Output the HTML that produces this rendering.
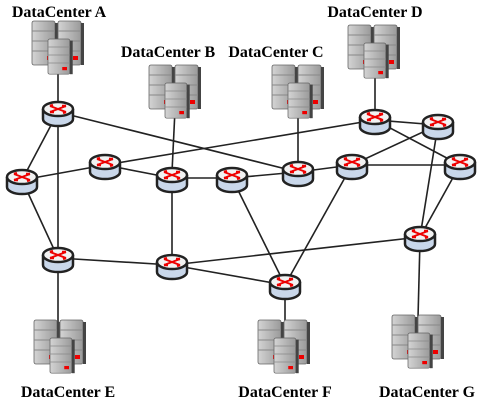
<!DOCTYPE html>
<html><head><style>
body{margin:0;background:#fff;}
svg{display:block;}
text{font-family:"Liberation Serif",serif;font-weight:bold;font-size:16px;fill:#000;}
</style></head><body>
<svg width="484" height="405" viewBox="0 0 484 405">
<defs>
<linearGradient id="tw" x1="0" x2="1"><stop offset="0" stop-color="#d4d4d4"/><stop offset="1" stop-color="#9a9a9a"/></linearGradient>
<g id="tower">
<rect x="0" y="0" width="23" height="44" rx="2" fill="url(#tw)" stroke="#666" stroke-width="0.8"/>
<rect x="23" y="2" width="3" height="42" fill="#444"/>
<line x1="0" y1="10" x2="23" y2="10" stroke="#888"/>
<line x1="0" y1="20" x2="23" y2="20" stroke="#888"/>
<line x1="0" y1="30" x2="23" y2="30" stroke="#888"/>
<rect x="15" y="35" width="5" height="4" fill="#e00"/>
</g>
<g id="server">
<use href="#tower" x="0" y="0"/>
<use href="#tower" x="26" y="0"/>
<g transform="translate(16,18)"><g transform="scale(0.95,0.8)"><use href="#tower"/></g></g>
</g>
<g id="router">
<path d="M-15,0 v10 a15,7 0 0 0 30,0 v-10" fill="#c9d7ea" stroke="#222" stroke-width="2.5"/>
<ellipse cx="0" cy="0" rx="15" ry="7" fill="#f2f2f2" stroke="#222" stroke-width="2.5"/>
<path d="M-8,-3 L8,3 M-8,3 L8,-3" stroke="#e00" stroke-width="2"/>
<path d="M8,-3 l-4,0 M-8,3 l4,0 M8,3 l-3,1 M-8,-3 l3,-1" stroke="#e00" stroke-width="2.5"/>
</g>
</defs>
<g stroke="#222" stroke-width="1.6">
<line x1="58" y1="70" x2="58" y2="105"/>
<line x1="175" y1="110" x2="172" y2="172"/>
<line x1="298" y1="110" x2="298" y2="168"/>
<line x1="375" y1="72" x2="375" y2="115"/>
<line x1="58" y1="260" x2="58" y2="325"/>
<line x1="285" y1="290" x2="285" y2="325"/>
<line x1="420" y1="240" x2="418" y2="318"/>
<line x1="58" y1="112" x2="22" y2="180"/>
<line x1="58" y1="112" x2="58" y2="258"/>
<line x1="58" y1="112" x2="298" y2="172"/>
<line x1="22" y1="180" x2="105" y2="165"/>
<line x1="22" y1="180" x2="58" y2="258"/>
<line x1="105" y1="165" x2="375" y2="120"/>
<line x1="105" y1="165" x2="172" y2="178"/>
<line x1="172" y1="178" x2="232" y2="178"/>
<line x1="172" y1="178" x2="172" y2="265"/>
<line x1="232" y1="178" x2="298" y2="172"/>
<line x1="232" y1="178" x2="285" y2="285"/>
<line x1="298" y1="172" x2="352" y2="165"/>
<line x1="352" y1="165" x2="460" y2="165"/>
<line x1="352" y1="165" x2="438" y2="125"/>
<line x1="352" y1="165" x2="285" y2="285"/>
<line x1="375" y1="120" x2="438" y2="125"/>
<line x1="375" y1="120" x2="460" y2="165"/>
<line x1="438" y1="125" x2="420" y2="237"/>
<line x1="460" y1="165" x2="420" y2="237"/>
<line x1="58" y1="258" x2="172" y2="265"/>
<line x1="172" y1="265" x2="420" y2="237"/>
<line x1="172" y1="265" x2="285" y2="285"/>
</g>
<use href="#router" x="58" y="109"/>
<use href="#router" x="22" y="177"/>
<use href="#router" x="105" y="162"/>
<use href="#router" x="172" y="175"/>
<use href="#router" x="232" y="175"/>
<use href="#router" x="298" y="169"/>
<use href="#router" x="352" y="162"/>
<use href="#router" x="375" y="117"/>
<use href="#router" x="438" y="122"/>
<use href="#router" x="460" y="162"/>
<use href="#router" x="420" y="234"/>
<use href="#router" x="58" y="255"/>
<use href="#router" x="172" y="262"/>
<use href="#router" x="285" y="282"/>
<use href="#server" x="32" y="21"/>
<use href="#server" x="149" y="65"/>
<use href="#server" x="272" y="65"/>
<use href="#server" x="348" y="25"/>
<use href="#server" x="34" y="320"/>
<use href="#server" x="258" y="320"/>
<use href="#server" x="392" y="315"/>
<text x="59" y="17" text-anchor="middle">DataCenter A</text>
<text x="168" y="57" text-anchor="middle">DataCenter B</text>
<text x="276" y="57" text-anchor="middle">DataCenter C</text>
<text x="375" y="17" text-anchor="middle">DataCenter D</text>
<text x="68" y="397" text-anchor="middle">DataCenter E</text>
<text x="285" y="397" text-anchor="middle">DataCenter F</text>
<text x="427" y="397" text-anchor="middle">DataCenter G</text>
</svg>
</body></html>
